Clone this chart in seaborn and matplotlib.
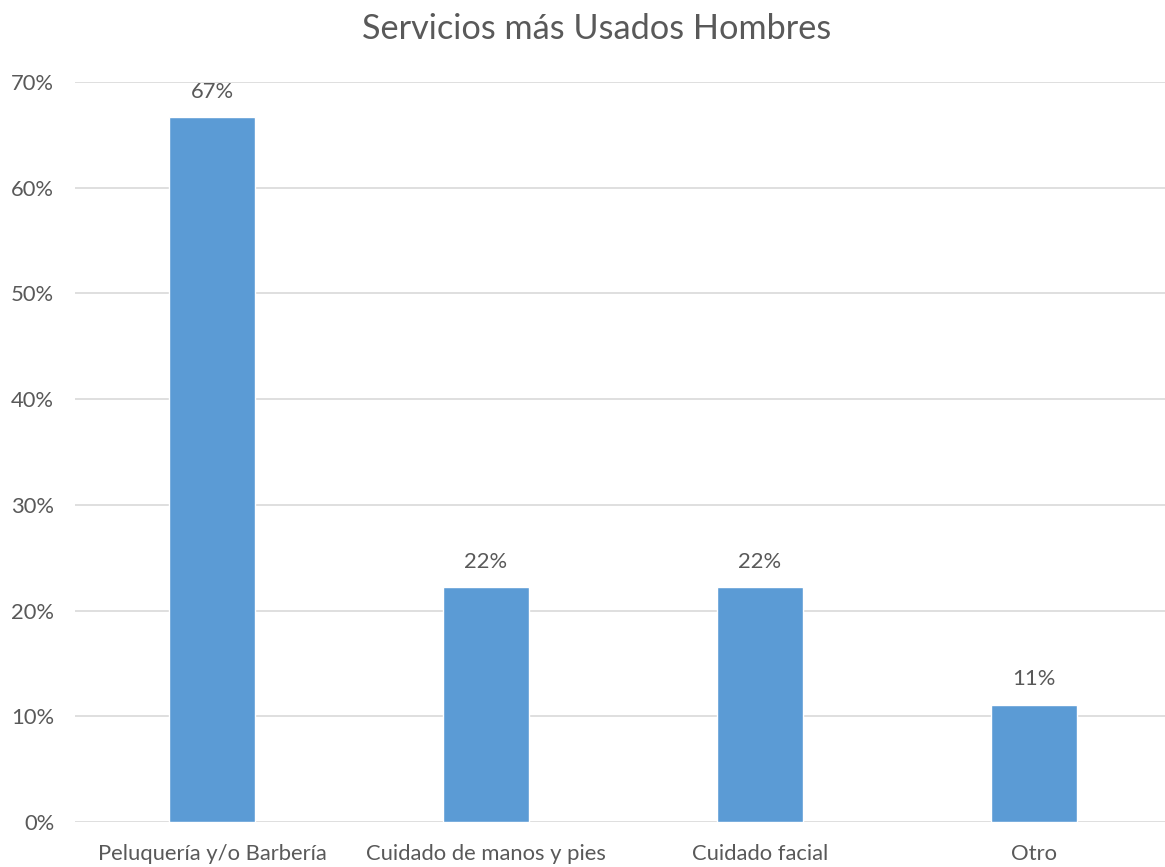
import matplotlib
matplotlib.use("Agg")
import matplotlib.pyplot as plt
import seaborn as sns
import pandas as pd
from matplotlib.ticker import PercentFormatter

categories = ["Peluquería y/o Barbería", "Cuidado de manos y pies", "Cuidado facial", "Otro"]
values = [0.6667, 0.2222, 0.2222, 0.1111]
value_labels = ["67%", "22%", "22%", "11%"]
y_ticks = [0.0, 0.1, 0.2, 0.3, 0.4, 0.5, 0.6, 0.7]

sns.set_theme(style="white")
plt.rcParams["font.family"] = ["Lato", "DejaVu Sans"]

TEXT = "#595959"
df = pd.DataFrame({"categoria": categories, "valor": values})

fig = plt.figure(figsize=(11.65, 8.67), dpi=100)
ax = fig.add_axes([75 / 1165, 45 / 867, 1090 / 1165, 740 / 867])

sns.barplot(data=df, x="categoria", y="valor", color="#5B9BD5", saturation=1,
            width=0.314, ax=ax, zorder=3)

ax.set_ylim(0, 0.7)
ax.set_xlim(-0.5, 3.478)
ax.set_yticks(y_ticks)
ax.yaxis.set_major_formatter(PercentFormatter(1.0, decimals=0))
ax.grid(axis="y", color="#D9D9D9", linewidth=1.2, zorder=0)
ax.set_axisbelow(True)
for s in ax.spines.values():
    s.set_visible(False)
ax.set_xlabel("")
ax.set_ylabel("")
ax.tick_params(axis="both", length=0, labelsize=15.8, colors=TEXT)
ax.tick_params(axis="x", pad=16)
ax.tick_params(axis="y", pad=15)

for i, (v, lab) in enumerate(zip(values, value_labels)):
    ax.annotate(lab, (i, v), xytext=(0, 11), textcoords="offset points",
                ha="center", va="bottom", fontsize=15.8, color=TEXT)

fig.text(597 / 1165, 1 - 29 / 867, "Servicios más Usados Hombres",
         ha="center", va="center", fontsize=24.7, color=TEXT)

fig.savefig("out.png", dpi=100)
